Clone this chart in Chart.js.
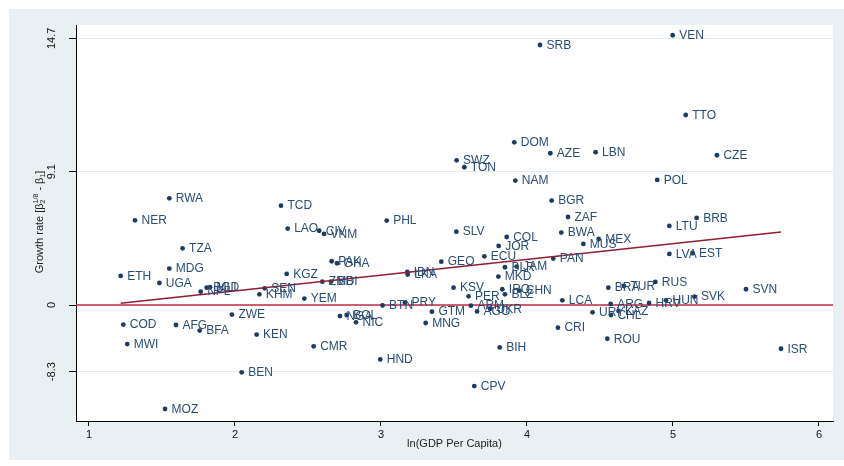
<!DOCTYPE html>
<html>
<head>
<meta charset="utf-8">
<script src="https://cdn.jsdelivr.net/npm/chart.js@4"></script>
<style>
  html, body { margin: 0; padding: 0; background: #fff; }
  #wrap { width: 844px; height: 466px; }
</style>
</head>
<body>
<div id="wrap"><canvas id="chart-growth" width="844" height="466"></canvas></div>
<script>
// country codes, ln(GDP per capita) and growth (plotted position, tick units below)
const countryCodes = ['VEN','SRB','TTO','DOM','AZE','LBN','CZE','SWZ','TON','NAM','POL','BGR','ZAF','BRB','LTU','SLV','COL','BWA','MEX','MUS',
  'RWA','NER','TCD','LAO','CIV','VNM','PHL','TZA','MDG','ETH','UGA','KGZ','PAK','GHA','ZMB','BDI','NPL','BGD','MLI','SEN',
  'KHM','YEM','ZWE','COD','AFG','BFA','KEN','MWI','CMR','BEN','MOZ','NGA','BOL','NIC','BTN','PRY','GTM','MNG','HND','IDN',
  'LKA','GEO','KSV','ECU','JOR','BLR','JAM','MKD','PER','IRQ','CHN','BLZ','ARM','UKR','AGO','BIH','CPV','PAN','LCA','CRI',
  'LVA','EST','BRA','TUR','RUS','ARG','HRV','HUN','SVK','SVN','URY','KAZ','CHL','ROU','ISR'];
const lnGdp = [4.998,4.089,5.087,3.913,4.160,4.470,5.301,3.518,3.571,3.920,4.892,4.169,4.281,5.162,4.975,3.516,3.861,4.235,4.491,4.386,
  1.550,1.315,2.315,2.361,2.577,2.610,3.039,1.641,1.550,1.217,1.482,2.354,2.662,2.699,2.598,2.658,1.765,1.806,1.829,2.203,
  2.167,2.475,1.979,1.235,1.596,1.758,2.148,1.262,2.539,2.046,1.521,2.719,2.765,2.829,3.011,3.164,3.349,3.306,2.995,3.180,
  3.183,3.413,3.497,3.708,3.806,3.849,3.929,3.804,3.600,3.831,3.947,3.849,3.616,3.747,3.658,3.813,3.639,4.180,4.242,4.212,
  4.975,5.134,4.557,4.664,4.879,4.573,4.836,4.952,5.148,5.500,4.449,4.627,4.575,4.550,5.740];
const growthPos = [2.023,1.950,1.425,1.220,1.138,1.146,1.123,1.085,1.033,0.933,0.938,0.783,0.660,0.653,0.593,0.550,0.510,0.543,0.495,0.458,
  0.800,0.635,0.745,0.573,0.557,0.533,0.633,0.425,0.273,0.218,0.165,0.233,0.328,0.313,0.175,0.176,0.100,0.130,0.133,0.125,
  0.080,0.048,-0.072,-0.147,-0.150,-0.192,-0.222,-0.293,-0.310,-0.505,-0.780,-0.083,-0.075,-0.130,-0.003,0.018,-0.050,-0.135,-0.408,0.248,
  0.228,0.325,0.130,0.365,0.443,0.283,0.288,0.213,0.065,0.118,0.108,0.080,-0.005,-0.028,-0.048,-0.318,-0.608,0.348,0.035,-0.170,
  0.383,0.388,0.130,0.143,0.173,0.008,0.015,0.035,0.063,0.118,-0.055,-0.045,-0.075,-0.253,-0.328];

// fitted line end points
const fitX = [1.217, 5.740];
const fitY = [0.013, 0.548];

// axis ticks
const xTicks = [1, 2, 3, 4, 5, 6];
const yTickValues = [-0.5, 0, 1, 2];
const yTickLabels = ['-8.3', '0', '9.1', '14.7'];

Chart.defaults.font.family = "'Liberation Sans', Arial, sans-serif";
Chart.defaults.font.size = 11;
Chart.defaults.color = '#111';

const points = countryCodes.map((c, i) => ({ x: lnGdp[i], y: growthPos[i] }));

// background panel + white plot area + zero line
const panelPlugin = {
  id: 'panel',
  beforeDraw(chart) {
    const { ctx: c, chartArea: { left, right, top, bottom } } = chart;
    c.save();
    c.fillStyle = '#fff';
    c.fillRect(0, 0, chart.width, chart.height);
    c.fillStyle = '#e9f0f3';
    c.fillRect(9, 9, chart.width - 9, chart.height - 15);
    c.fillStyle = '#fff';
    c.fillRect(left, top, right - left, bottom - top);
    c.restore();
  },
  beforeDatasetsDraw(chart) {
    const { ctx: c, chartArea: { left, right }, scales: { y } } = chart;
    const y0 = y.getPixelForValue(0);
    c.save();
    c.strokeStyle = '#c42842';
    c.lineWidth = 1.5;
    c.beginPath();
    c.moveTo(left, y0);
    c.lineTo(right, y0);
    c.stroke();
    c.restore();
  }
};

// country labels + axis titles
const labelPlugin = {
  id: 'labels',
  afterDatasetsDraw(chart) {
    const c = chart.ctx;
    const meta = chart.getDatasetMeta(0);
    c.save();
    c.font = "12px 'Liberation Sans', Arial, sans-serif";
    c.fillStyle = '#2b4c74';
    c.textBaseline = 'middle';
    meta.data.forEach((el, i) => {
      c.fillText(countryCodes[i], el.x + 6.5, el.y + 0.5);
    });
    c.restore();

    const { chartArea: { left, right, top, bottom } } = chart;
    c.save();
    c.fillStyle = '#222';
    c.font = "11px 'Liberation Sans', Arial, sans-serif";
    c.textAlign = 'center';
    c.textBaseline = 'middle';
    c.fillText('ln(GDP Per Capita)', (left + right) / 2, 444);

    // y title with sub/superscripts
    const parts = [
      ['Growth rate [β', 11, 0], ['2', 7, 3], ['1/8', 7, -4], [' - β', 11, 0], ['1', 7, 3], [']', 11, 0]
    ];
    let total = 0;
    parts.forEach(p => { c.font = p[1] + "px 'Liberation Sans', Arial, sans-serif"; total += c.measureText(p[0]).width; });
    c.translate(40, (top + bottom) / 2 - 3);
    c.rotate(-Math.PI / 2);
    c.textAlign = 'left';
    let x = -total / 2;
    parts.forEach((p, k) => {
      c.font = p[1] + "px 'Liberation Sans', Arial, sans-serif";
      if (k === 2) x -= c.measureText('2').width;
      c.fillText(p[0], x, p[2]);
      x += c.measureText(p[0]).width;
    });
    c.restore();
  }
};

new Chart(document.getElementById('chart-growth'), {
  type: 'scatter',
  data: {
    datasets: [
      {
        data: points,
        backgroundColor: '#1c3b62',
        borderWidth: 0,
        pointRadius: 2.4,
        order: 2
      },
      {
        type: 'line',
        data: fitX.map((v, i) => ({ x: v, y: fitY[i] })),
        borderColor: '#8c1f30',
        borderWidth: 1.5,
        pointRadius: 0,
        fill: false,
        order: 1
      }
    ]
  },
  plugins: [panelPlugin, labelPlugin],
  options: {
    responsive: false,
    animation: false,
    events: [],
    layout: { padding: { left: 0, top: 25, right: 11, bottom: 0 } },
    plugins: { legend: { display: false }, tooltip: { enabled: false } },
    scales: {
      x: {
        type: 'linear',
        min: 0.911,
        max: 6.096,
        afterBuildTicks: (s) => { s.ticks = xTicks.map(v => ({ value: v })); },
        afterFit: (s) => { s.height = 45; },
        ticks: { font: { size: 11 }, color: '#111', padding: 2, maxRotation: 0 },
        grid: { drawOnChartArea: false, tickLength: 5, tickColor: '#000' },
        border: { color: '#000', width: 1 }
      },
      y: {
        type: 'linear',
        min: -0.87,
        max: 2.1,
        afterBuildTicks: (s) => { s.ticks = yTickValues.map(v => ({ value: v })); },
        afterFit: (s) => { s.width = 76; },
        ticks: {
          callback: (v) => yTickLabels[yTickValues.indexOf(v)],
          minRotation: 90,
          maxRotation: 90,
          crossAlign: 'center',
          padding: 6,
          font: { size: 11 },
          color: '#111'
        },
        grid: { color: '#e1ebf0', tickColor: '#000', tickLength: 7 },
        border: { color: '#000', width: 1 }
      }
    }
  }
});
</script>
</body>
</html>
